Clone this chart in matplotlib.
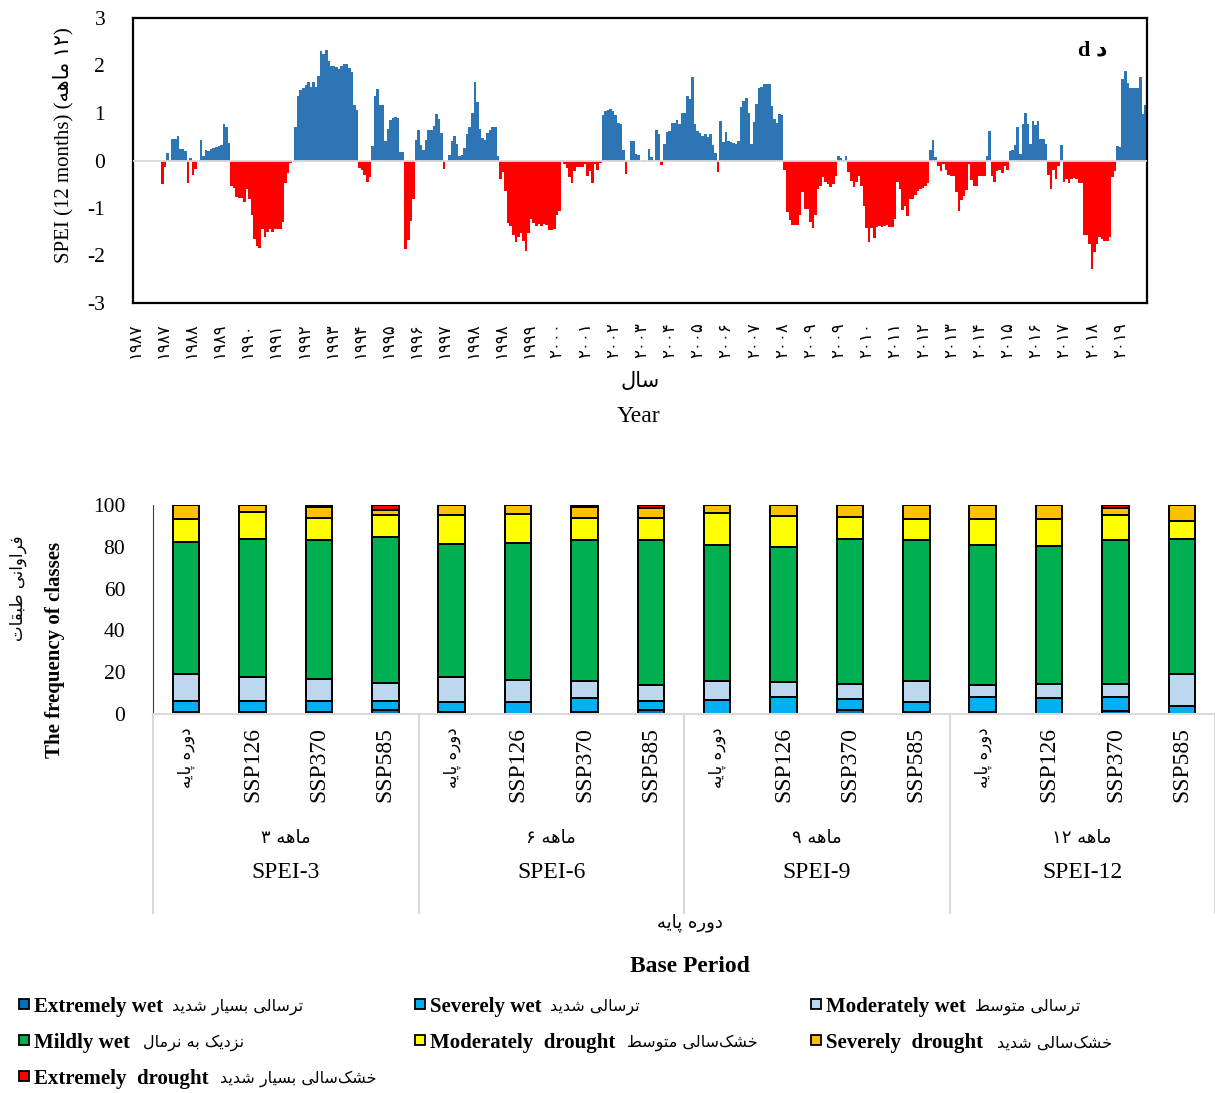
import numpy as np
import matplotlib
matplotlib.use("Agg")
import matplotlib.pyplot as plt
import matplotlib.transforms as mtransforms
from matplotlib.patches import Rectangle

nan = np.nan

# SPEI-12 monthly values, Jan 1987 .. Dec 2019 (first 11 months undefined)
spei12 = [
    nan, nan, nan, nan, nan, nan, nan, nan, nan, nan, nan,
    -0.49, -0.13, 0.16, 0.02, 0.46, 0.46, 0.51, 0.25, 0.24, 0.2, -0.47, 0.05,
    -0.3, -0.18, 0.0, 0.44, 0.1, 0.23, 0.2, 0.25, 0.26, 0.28, 0.3, 0.32, 0.77, 0.7, 0.37,
    -0.54, -0.57, -0.77, -0.78, -0.79, -0.87, -0.61, -0.82, -1.14, -1.65, -1.8, -1.84,
    -1.45, -1.6, -1.5, -1.45, -1.5, -1.45, -1.44, -1.45, -1.3, -0.47, -0.26, -0.06, 0.0,
    0.7, 1.35, 1.48, 1.53, 1.58, 1.66, 1.55, 1.66, 1.55, 1.78, 2.3, 2.25, 2.32, 2.09,
    2.0, 2.0, 1.96, 1.92, 1.99, 2.04, 2.03, 1.94, 1.86, 1.16, 1.07,
    -0.15, -0.19, -0.31, -0.46, -0.35,
    0.3, 1.35, 1.5, 1.16, 1.16, 0.42, 0.67, 0.85, 0.9, 0.92, 0.9, 0.18, 0.18,
    -1.86, -1.68, -1.28, -0.82,
    0.43, 0.65, 0.32, 0.23, 0.44, 0.65, 0.65, 0.72, 0.97, 0.88, 0.57,
    -0.18, 0.0,
    0.12, 0.41, 0.51, 0.34, 0.09, 0.12, 0.27, 0.56, 0.71, 1.0, 1.66, 1.24, 0.67, 0.48,
    0.44, 0.57, 0.64, 0.71, 0.71, 0.1,
    -0.38, -0.25, -0.65, -1.31, -1.37, -1.56, -1.71, -1.61, -1.52, -1.7, -1.91, -1.52,
    -1.24, -1.31, -1.38, -1.33, -1.38, -1.33, -1.35, -1.47, -1.47, -1.44, -1.14, -1.07,
    0.02,
    -0.07, -0.15, -0.35, -0.47, -0.22, -0.14, -0.14, -0.14, -0.08, -0.33, -0.22, -0.47,
    -0.08, -0.19, -0.06,
    0.95, 1.04, 1.06, 1.09, 1.04, 0.95, 0.78, 0.76, 0.23,
    -0.28, 0.0, 0.41, 0.41, 0.13, 0.11, 0.0, -0.03, 0.0, 0.25, 0.07, 0.0, 0.65, 0.56,
    -0.1, 0.35, 0.6, 0.63, 0.79, 0.79, 0.85, 0.76, 0.99, 0.99, 1.35, 1.3, 1.76, 0.77,
    0.63, 0.57, 0.51, 0.56, 0.5, 0.56, 0.32, 0.16, -0.25, 0.84, 0.39, 0.6, 0.41, 0.39,
    0.37, 0.35, 0.41, 1.12, 1.26, 1.32, 1.0, 0.34, 0.82, 1.18, 1.53, 1.55, 1.61, 1.61,
    1.61, 1.14, 0.88, 0.79, 0.97, 0.95,
    -0.19, -1.08, -1.26, -1.35, -1.36, -1.36, -1.15, -0.66, -1.02, -1.03, -1.3, -1.43,
    -1.14, -0.61,
    -0.54, -0.35, -0.46, -0.5, -0.56, -0.5, -0.32,
    0.1, 0.06, 0.02, 0.1,
    -0.25, -0.44, -0.55, -0.46, -0.32, -0.54, -0.96, -1.42, -1.72, -1.42, -1.64, -1.4,
    -1.38, -1.4, -1.38, -1.35, -1.4, -1.4, -1.24, -0.46, -0.6, -1.05, -0.95, -1.17,
    -0.81, -0.81, -0.72, -0.65, -0.6, -0.58, -0.54, -0.47,
    0.23, 0.44, 0.08,
    -0.12, -0.22, -0.08, -0.19, -0.3, -0.32, -0.33, -0.67, -1.07, -0.84, -0.74, -0.63,
    -0.08, -0.41, -0.54, -0.53, -0.33, -0.32, -0.33,
    0.1, 0.62,
    -0.33, -0.46, -0.22, -0.21, -0.26, -0.11, -0.19,
    0.2, 0.22, 0.32, 0.7, 0.14, 0.76, 0.99, 0.76, 0.35, 0.83, 0.74, 0.84, 0.46, 0.46, 0.35,
    -0.31, -0.6, -0.19, -0.39, -0.11,
    0.32,
    -0.46, -0.39, -0.47, -0.39, -0.37, -0.39, -0.47, -0.48, -1.56, -1.57, -1.75, -2.28,
    -1.93, -1.75, -1.61, -1.66, -1.7, -1.7, -1.61, -0.35, -0.22,
    0.3, 0.29, 1.71, 1.88, 1.64, 1.53, 1.53, 1.53, 1.53, 1.76, 0.97, 1.16,
]

# year shown under every 11th month
tick_years = [1987, 1987, 1988, 1989, 1990, 1991, 1992, 1993, 1994, 1995, 1996, 1997,
              1998, 1998, 1999, 2000, 2001, 2002, 2003, 2004, 2005, 2006, 2007, 2008,
              2009, 2009, 2010, 2011, 2012, 2013, 2014, 2015, 2016, 2017, 2018, 2019]
tick_step = 11

# class frequencies (%) for 4 SPEI scales x (base, SSP126, SSP370, SSP585)
ext_wet = [1.0, 1.0, 1.0, 2.0, 1.1, 0.0, 1.1, 1.9, 0.0, 0.0, 1.9, 1.1, 1.1, 0.0, 1.4, 0.0]
sev_wet = [5.4, 5.4, 5.4, 4.4, 4.5, 5.9, 6.5, 4.4, 6.8, 7.9, 5.3, 4.5, 6.9, 7.6, 6.6, 4.0]
mod_wet = [12.9, 11.1, 10.3, 8.4, 12.1, 10.5, 8.0, 7.4, 8.8, 7.4, 7.3, 10.0, 6.0, 6.9, 6.5, 15.1]
near_normal = [63.0, 66.1, 66.4, 69.9, 63.5, 65.6, 67.5, 69.4, 65.1, 64.6, 69.1, 67.8,
               67.0, 65.7, 68.9, 64.5]
mod_drought = [10.9, 12.9, 10.8, 10.5, 14.0, 13.5, 10.8, 10.8, 15.3, 15.0, 10.8, 9.7,
               12.1, 13.0, 11.8, 8.8]
sev_drought = [6.8, 3.5, 5.3, 2.6, 4.8, 4.5, 5.0, 4.5, 4.0, 5.1, 5.6, 6.9, 6.9, 6.8, 3.2, 7.6]
ext_drought = [0.0, 0.0, 0.8, 2.2, 0.0, 0.0, 1.1, 1.6, 0.0, 0.0, 0.0, 0.0, 0.0, 0.0, 1.6, 0.0]

scenarios = ['دوره پایه', 'SSP126', 'SSP370', 'SSP585']
scales = [3, 6, 9, 12]
scale_names = ['SPEI-3', 'SPEI-6', 'SPEI-9', 'SPEI-12']

class_en = ['Extremely wet', 'Severely wet', 'Moderately wet', 'Mildly wet',
            'Moderately  drought', 'Severely  drought', 'Extremely  drought']
class_fa = ['ترسالی بسیار شدید', 'ترسالی شدید', 'ترسالی متوسط', 'نزدیک به نرمال',
            'خشک\u200cسالی متوسط', 'خشک\u200cسالی شدید', 'خشک\u200cسالی بسیار شدید']
class_colors = ['#0070C0', '#00B0F0', '#BDD7EE', '#00B050', '#FFFF00', '#FFC000', '#FF0000']

# --- minimal Persian shaping (presentation forms, visual order) ---
FORMS = {  # isolated, final, initial, medial
    '\u0627': ('\uFE8D', '\uFE8E', None, None),
    '\u0628': ('\uFE8F', '\uFE90', '\uFE91', '\uFE92'),
    '\u067E': ('\uFB56', '\uFB57', '\uFB58', '\uFB59'),
    '\u062A': ('\uFE95', '\uFE96', '\uFE97', '\uFE98'),
    '\u062E': ('\uFEA5', '\uFEA6', '\uFEA7', '\uFEA8'),
    '\u062F': ('\uFEA9', '\uFEAA', None, None),
    '\u0631': ('\uFEAD', '\uFEAE', None, None),
    '\u0632': ('\uFEAF', '\uFEB0', None, None),
    '\u0633': ('\uFEB1', '\uFEB2', '\uFEB3', '\uFEB4'),
    '\u0634': ('\uFEB5', '\uFEB6', '\uFEB7', '\uFEB8'),
    '\u0637': ('\uFEC1', '\uFEC2', '\uFEC3', '\uFEC4'),
    '\u0641': ('\uFED1', '\uFED2', '\uFED3', '\uFED4'),
    '\u0642': ('\uFED5', '\uFED6', '\uFED7', '\uFED8'),
    '\u06A9': ('\uFB8E', '\uFB8F', '\uFB90', '\uFB91'),
    '\u0644': ('\uFEDD', '\uFEDE', '\uFEDF', '\uFEE0'),
    '\u0645': ('\uFEE1', '\uFEE2', '\uFEE3', '\uFEE4'),
    '\u0646': ('\uFEE5', '\uFEE6', '\uFEE7', '\uFEE8'),
    '\u0647': ('\uFEE9', '\uFEEA', '\uFEEB', '\uFEEC'),
    '\u0648': ('\uFEED', '\uFEEE', None, None),
    '\u06CC': ('\uFBFC', '\uFBFD', '\uFBFE', '\uFBFF'),
}


def shape(text):
    s = text.replace('\u064A', '\u06CC').replace('\u0643', '\u06A9')
    out = []
    for i, ch in enumerate(s):
        f = FORMS.get(ch)
        if f is None:
            out.append(ch)
            continue
        prev = s[i - 1] if i > 0 else ''
        nxt = s[i + 1] if i + 1 < len(s) else ''
        jp = prev in FORMS and FORMS[prev][2] is not None
        jn = f[2] is not None and nxt in FORMS
        if jp and jn:
            out.append(f[3])
        elif jp:
            out.append(f[1])
        elif jn:
            out.append(f[2])
        else:
            out.append(f[0])
    return ''.join(reversed(out)).replace('\u200c', '')


def fa_digits(n):
    return str(n).translate(str.maketrans('0123456789', '۰۱۲۳۴۵۶۷۸۹'))


W, H = 1215, 1093
fig = plt.figure(figsize=(W / 100, H / 100), dpi=100)


def fx(px):
    return px / W


def fy(py):
    return 1 - py / H


SERIF = 'Liberation Serif'
FA = 'DejaVu Sans'
MIX = [SERIF, FA]

# ---------------- SPEI-12 time series ----------------
ax1 = fig.add_axes([fx(133), fy(303), (1147 - 133) / W, (303 - 18) / H])
vals = np.array(spei12, dtype=float)
x = np.arange(len(vals))
colors = np.where(vals >= 0, '#2E75B6', '#FF0000')
ax1.bar(x, np.nan_to_num(vals), width=1.0, color=colors, linewidth=0)
ax1.axhline(0, color='#D9D9D9', lw=1.3, zorder=3)
ax1.set_xlim(-0.5, len(vals) - 0.5)
ax1.set_ylim(-3, 3)
ax1.set_yticks(range(-3, 4))
ax1.set_yticklabels([str(v) for v in range(-3, 4)], family=SERIF, fontsize=15.5)
ax1.tick_params(axis='y', length=0, pad=20)
ax1.set_xticks(x[::tick_step][:len(tick_years)])
ax1.set_xticklabels([fa_digits(y) for y in tick_years], rotation=90, family=FA, fontsize=12)
ax1.tick_params(axis='x', length=0, pad=14)
for sp in ax1.spines.values():
    sp.set_linewidth(1.6)
    sp.set_color('black')

fig.text(fx(63), fy(145), 'SPEI (12 months) (' + shape('ماهه') + ' ۱۲)', rotation=90,
         ha='center', va='center', family=MIX, fontsize=15)
ax1.text(fx(1078), fy(50), 'd ' + shape('د'), transform=fig.transFigure, ha='left',
         va='center', family=MIX, fontsize=16, fontweight='bold')
fig.text(fx(640), fy(381), shape('سال'), ha='center', va='center', family=FA, fontsize=15)
fig.text(fx(638), fy(417), 'Year', ha='center', va='center', family=SERIF, fontsize=17)

# ---------------- class frequency stacked bars ----------------
ax2 = fig.add_axes([fx(153), fy(714), (W - 153) / W, (714 - 505) / H])
pos = np.arange(len(ext_wet))
series = [ext_wet, sev_wet, mod_wet, near_normal, mod_drought, sev_drought, ext_drought]
base = np.zeros(len(pos))
for vals_c, col in zip(series, class_colors):
    v = np.array(vals_c)
    ax2.bar(pos, v, 0.4, bottom=base, color=col, edgecolor='black', linewidth=1.4)
    base += v
ax2.set_xlim(-0.5, len(pos) - 0.5)
ax2.set_ylim(0, 100)
ax2.set_yticks(range(0, 101, 20))
ax2.set_yticklabels([str(v) for v in range(0, 101, 20)], family=SERIF, fontsize=15.5)
ax2.tick_params(axis='y', length=0, pad=20)
ax2.set_xticks([])
ax2.spines['top'].set_visible(False)
ax2.spines['right'].set_visible(False)
ax2.spines['left'].set_color('#404040')
ax2.spines['bottom'].set_color('#D9D9D9')
ax2.spines['bottom'].set_linewidth(1.5)

trans = mtransforms.blended_transform_factory(ax2.transData, fig.transFigure)
for i in pos:
    lab = scenarios[i % 4]
    if lab.startswith('SSP'):
        ax2.text(i, fy(727), lab, transform=trans, rotation=90, ha='center', va='top',
                 family=SERIF, fontsize=17)
    else:
        ax2.text(i, fy(727), shape(lab), transform=trans, rotation=90, ha='center',
                 va='top', family=FA, fontsize=12)
for g, (sc, name) in enumerate(zip(scales, scale_names)):
    c = g * 4 + 1.5
    ax2.text(c, fy(838), fa_digits(sc) + ' ' + shape('ماهه'), transform=trans,
             ha='center', va='center', family=FA, fontsize=13)
    ax2.text(c, fy(873), name, transform=trans, ha='center', va='center',
             family=SERIF, fontsize=17)
for b in [-0.5, 3.5, 7.5, 11.5, 15.5]:
    ax2.plot([b, b], [fy(714), fy(913)], transform=trans, color='#D9D9D9', lw=1.5,
             clip_on=False)

fig.text(fx(690), fy(923), shape('دوره پایه'), ha='center', va='center', family=FA,
         fontsize=13)
fig.text(fx(690), fy(966), 'Base Period', ha='center', va='center', family=SERIF,
         fontsize=17, fontweight='bold')
fig.text(fx(55), fy(650), 'The frequency of classes', rotation=90, ha='center',
         va='center', family=SERIF, fontsize=15, fontweight='bold')
fig.text(fx(18), fy(588), shape('فراوانی طبقات'), rotation=90, ha='center', va='center',
         family=FA, fontsize=12)

# ---------------- legend ----------------
col_x = [19, 415, 811]
row_y = [1004, 1040, 1076]
fa_x = [172, 550, 975, 143, 627, 997, 220]
for k, (en, fa, col) in enumerate(zip(class_en, class_fa, class_colors)):
    r, c = divmod(k, 3)
    mx, my = col_x[c], row_y[r]
    fig.add_artist(Rectangle((fx(mx), fy(my + 5)), 10 / W, 10 / H, transform=fig.transFigure,
                             facecolor=col, edgecolor='black', linewidth=1.3))
    fig.text(fx(mx + 15), fy(my + 3), en, ha='left', va='center', family=SERIF,
             fontsize=15, fontweight='bold')
    fig.text(fx(fa_x[k]), fy(my + 3), shape(fa), ha='left', va='center', family=FA,
             fontsize=11.5)

fig.savefig('out.png', dpi=100)
